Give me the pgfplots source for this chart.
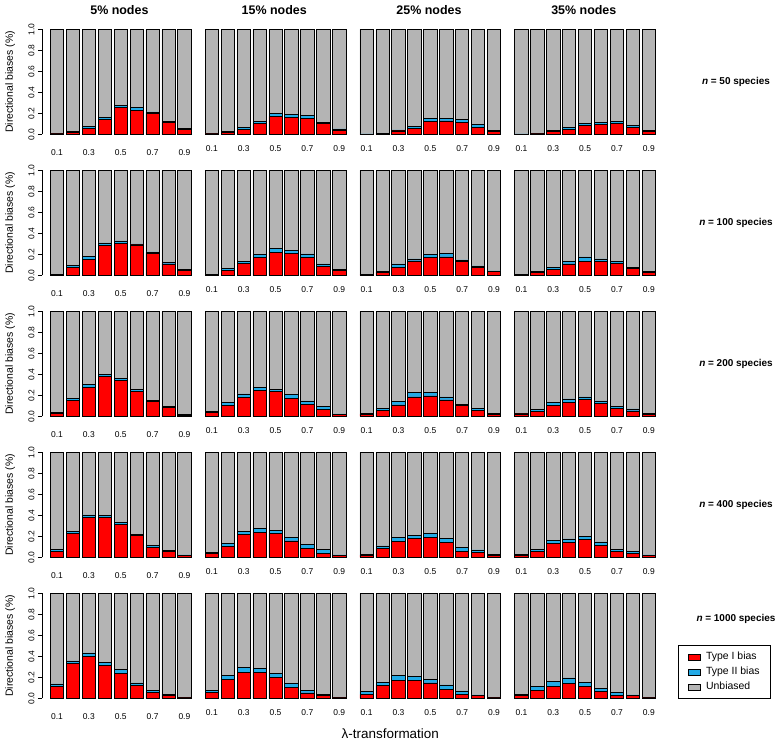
\documentclass[border=0pt]{standalone}
\usepackage{pgfplots}
\usepackage{pgfplotstable}
\pgfplotsset{compat=1.18}
\usepackage{fontspec}
\setmainfont{Liberation Sans}
\definecolor{typeI}{RGB}{255,0,0}
\definecolor{typeII}{RGB}{35,170,230}
\definecolor{unb}{RGB}{180,180,180}
\newcommand\ticks{\fontsize{8.5}{9}\selectfont}
\newcommand\titlefont{\bfseries\fontsize{12.5}{13}\selectfont}
\newcommand\rowfont{\bfseries\fontsize{10}{12}\selectfont}
\newcommand\ylabfont{\fontsize{10.5}{12}\selectfont}

% columns: a = 5% nodes, b = 15%, c = 25%, d = 35%; 1 = Type I, 2 = Type II, u = Unbiased
\pgfplotstableread{
x a1 a2 au b1 b2 bu c1 c2 cu d1 d2 du
1 0.004 0.003 0.993 0.004 0.003 0.993 0.002 0.002 0.996 0.002 0.002 0.996
2 0.020 0.008 0.972 0.016 0.008 0.976 0.006 0.005 0.989 0.004 0.004 0.992
3 0.060 0.018 0.922 0.046 0.016 0.938 0.032 0.010 0.958 0.027 0.011 0.962
4 0.140 0.022 0.838 0.100 0.022 0.878 0.055 0.018 0.927 0.047 0.016 0.937
5 0.255 0.022 0.723 0.170 0.030 0.800 0.122 0.026 0.852 0.085 0.020 0.895
6 0.230 0.028 0.742 0.160 0.028 0.812 0.128 0.026 0.846 0.092 0.021 0.887
7 0.195 0.018 0.787 0.152 0.026 0.822 0.115 0.025 0.860 0.102 0.021 0.877
8 0.112 0.012 0.876 0.102 0.011 0.887 0.068 0.024 0.908 0.066 0.022 0.912
9 0.045 0.009 0.946 0.040 0.011 0.949 0.030 0.008 0.962 0.028 0.008 0.964
}\rowA
\pgfplotstableread{
x a1 a2 au b1 b2 bu c1 c2 cu d1 d2 du
1 0.006 0.005 0.989 0.006 0.005 0.989 0.006 0.004 0.990 0.006 0.004 0.990
2 0.073 0.019 0.908 0.044 0.019 0.937 0.030 0.008 0.962 0.030 0.008 0.962
3 0.155 0.023 0.822 0.110 0.020 0.870 0.073 0.035 0.892 0.057 0.019 0.924
4 0.283 0.025 0.692 0.170 0.030 0.800 0.137 0.019 0.844 0.108 0.022 0.870
5 0.302 0.025 0.673 0.220 0.037 0.743 0.170 0.027 0.803 0.133 0.042 0.825
6 0.289 0.010 0.701 0.210 0.028 0.762 0.175 0.031 0.794 0.133 0.023 0.844
7 0.210 0.012 0.778 0.170 0.033 0.797 0.133 0.013 0.854 0.110 0.023 0.867
8 0.108 0.012 0.880 0.086 0.022 0.892 0.079 0.010 0.911 0.063 0.016 0.921
9 0.044 0.012 0.944 0.044 0.008 0.948 0.035 0.006 0.959 0.030 0.005 0.965
}\rowB
\pgfplotstableread{
x a1 a2 au b1 b2 bu c1 c2 cu d1 d2 du
1 0.030 0.011 0.959 0.035 0.009 0.956 0.020 0.006 0.974 0.022 0.007 0.971
2 0.149 0.022 0.829 0.105 0.028 0.867 0.057 0.019 0.924 0.048 0.019 0.933
3 0.276 0.024 0.700 0.178 0.035 0.787 0.108 0.032 0.860 0.105 0.025 0.870
4 0.378 0.022 0.600 0.248 0.031 0.721 0.184 0.041 0.775 0.136 0.029 0.835
5 0.340 0.019 0.641 0.235 0.025 0.740 0.194 0.031 0.775 0.162 0.022 0.816
6 0.238 0.022 0.740 0.171 0.035 0.794 0.156 0.028 0.816 0.124 0.022 0.854
7 0.140 0.012 0.848 0.114 0.032 0.854 0.102 0.012 0.886 0.079 0.019 0.902
8 0.083 0.009 0.908 0.067 0.028 0.905 0.060 0.013 0.927 0.051 0.019 0.930
9 0.012 0.006 0.982 0.015 0.008 0.977 0.017 0.007 0.976 0.017 0.007 0.976
}\rowC
\pgfplotstableread{
x a1 a2 au b1 b2 bu c1 c2 cu d1 d2 du
1 0.060 0.013 0.927 0.035 0.013 0.952 0.020 0.009 0.971 0.020 0.009 0.971
2 0.229 0.021 0.750 0.105 0.028 0.867 0.083 0.025 0.892 0.054 0.019 0.927
3 0.381 0.022 0.597 0.216 0.034 0.750 0.149 0.041 0.810 0.130 0.029 0.841
4 0.378 0.022 0.600 0.238 0.038 0.724 0.181 0.025 0.794 0.140 0.035 0.825
5 0.314 0.019 0.667 0.225 0.035 0.740 0.187 0.042 0.771 0.168 0.029 0.803
6 0.210 0.009 0.781 0.156 0.031 0.813 0.143 0.038 0.819 0.114 0.032 0.854
7 0.092 0.025 0.883 0.086 0.038 0.876 0.060 0.035 0.905 0.057 0.022 0.921
8 0.054 0.009 0.937 0.041 0.032 0.927 0.044 0.026 0.930 0.038 0.016 0.946
9 0.014 0.008 0.978 0.014 0.008 0.978 0.016 0.009 0.975 0.014 0.008 0.978
}\rowD
\pgfplotstableread{
x a1 a2 au b1 b2 bu c1 c2 cu d1 d2 du
1 0.114 0.023 0.863 0.057 0.019 0.924 0.038 0.029 0.933 0.030 0.005 0.965
2 0.330 0.026 0.644 0.178 0.038 0.784 0.120 0.029 0.851 0.079 0.035 0.886
3 0.400 0.032 0.568 0.250 0.042 0.708 0.171 0.048 0.781 0.114 0.048 0.838
4 0.317 0.026 0.657 0.248 0.038 0.714 0.171 0.039 0.790 0.143 0.051 0.806
5 0.241 0.035 0.724 0.197 0.041 0.762 0.146 0.035 0.819 0.111 0.041 0.848
6 0.120 0.026 0.854 0.102 0.041 0.857 0.086 0.041 0.873 0.063 0.029 0.908
7 0.060 0.016 0.924 0.051 0.022 0.927 0.038 0.032 0.930 0.029 0.031 0.940
8 0.029 0.012 0.959 0.029 0.009 0.962 0.025 0.007 0.968 0.025 0.007 0.968
9 0.003 0.002 0.995 0.003 0.002 0.995 0.004 0.002 0.994 0.003 0.002 0.995
}\rowE

\pgfplotsset{
  panel/.style={
    scale only axis, width=154.8bp, height=105bp,
    anchor=south west,
    xmin=0.0567, xmax=9.777, ymin=0, ymax=1,
    clip=false,
    ybar stacked, bar width=0.8333,
    axis x line*=bottom, axis y line*=left,
    x axis line style={draw=none},
    xtick={1,3,5,7,9}, xticklabels={0.1,0.3,0.5,0.7,0.9},
    x tick style={draw=none},
    xticklabel style={font=\ticks, yshift=-8bp},
    /pgf/number format/assume math mode=true,
    title style={font=\titlefont, at={(axis description cs:0.5,1)}, anchor=center, yshift=13bp},
  },
  firstcol/.style={
    ytick={0,0.2,0.4,0.6,0.8,1}, yticklabels={0.0,0.2,0.4,0.6,0.8,1.0},
    y tick style={draw=black, line width=0.6bp}, tick align=outside, major tick length=4bp,
    y axis line style={line width=0.6bp},
    yticklabel style={rotate=90, anchor=south, font=\ticks},
    ylabel={Directional biases (\%)},
    ylabel style={at={(axis description cs:-0.206,0.5)}, anchor=center, font=\ylabfont},
  },
  othercol/.style={ytick=\empty, y axis line style={draw=none}},
}

\newcommand{\panel}[5][]{%
  \begin{axis}[panel, at={(#2)}, #1]
    \addplot[fill=typeI, draw=black, line width=0.7bp] table[x=x, y=#41] {#3};
    \addplot[fill=typeII, draw=black, line width=0.7bp] table[x=x, y=#42] {#3};
    \addplot[fill=unb, draw=black, line width=0.7bp] table[x=x, y=#4u] {#3};
    #5
  \end{axis}}

\begin{document}
\begin{tikzpicture}
\useasboundingbox (0,0) rectangle (778bp,-752bp);
% row 1: n = 50
\panel[firstcol, title={5\% nodes}]{42bp,-134.3bp}{\rowA}{a}{}
\panel[othercol, title={15\% nodes}]{196.8bp,-134.3bp}{\rowA}{b}{}
\panel[othercol, title={25\% nodes}]{351.6bp,-134.3bp}{\rowA}{c}{}
\panel[othercol, title={35\% nodes}]{506.4bp,-134.3bp}{\rowA}{d}{\node[font=\rowfont] at (rel axis cs:1.483,0.5) {\textit{n} = 50 species};}
% row 2: n = 100
\panel[firstcol]{42bp,-275.3bp}{\rowB}{a}{}
\panel[othercol]{196.8bp,-275.3bp}{\rowB}{b}{}
\panel[othercol]{351.6bp,-275.3bp}{\rowB}{c}{}
\panel[othercol]{506.4bp,-275.3bp}{\rowB}{d}{\node[font=\rowfont] at (rel axis cs:1.483,0.5) {\textit{n} = 100 species};}
% row 3: n = 200
\panel[firstcol]{42bp,-416.3bp}{\rowC}{a}{}
\panel[othercol]{196.8bp,-416.3bp}{\rowC}{b}{}
\panel[othercol]{351.6bp,-416.3bp}{\rowC}{c}{}
\panel[othercol]{506.4bp,-416.3bp}{\rowC}{d}{\node[font=\rowfont] at (rel axis cs:1.483,0.5) {\textit{n} = 200 species};}
% row 4: n = 400
\panel[firstcol]{42bp,-557.3bp}{\rowD}{a}{}
\panel[othercol]{196.8bp,-557.3bp}{\rowD}{b}{}
\panel[othercol]{351.6bp,-557.3bp}{\rowD}{c}{}
\panel[othercol]{506.4bp,-557.3bp}{\rowD}{d}{\node[font=\rowfont] at (rel axis cs:1.483,0.5) {\textit{n} = 400 species};}
% row 5: n = 1000
\panel[firstcol]{42bp,-698.3bp}{\rowE}{a}{}
\panel[othercol]{196.8bp,-698.3bp}{\rowE}{b}{}
\panel[othercol]{351.6bp,-698.3bp}{\rowE}{c}{\node[font=\fontsize{13.5}{14}\selectfont] at (rel axis cs:0.25,-0.34) {λ-transformation};}
\panel[othercol,
  legend entries={Type I bias, Type II bias, Unbiased},
  legend style={at={(rel axis cs:1.11,0.508)}, anchor=north west, draw=black, line width=0.6bp,
    font=\fontsize{10.5}{12}\selectfont, inner xsep=9bp, inner ysep=5bp, row sep=2bp,
    cells={anchor=west}},
  legend image code/.code={\draw[#1, line width=0.4bp] (0bp,-3bp) rectangle (12bp,3bp); \path (16bp,0bp);},
]{506.4bp,-698.3bp}{\rowE}{d}{\node[font=\rowfont] at (rel axis cs:1.483,0.76) {\textit{n} = 1000 species};}
\end{tikzpicture}
\end{document}
